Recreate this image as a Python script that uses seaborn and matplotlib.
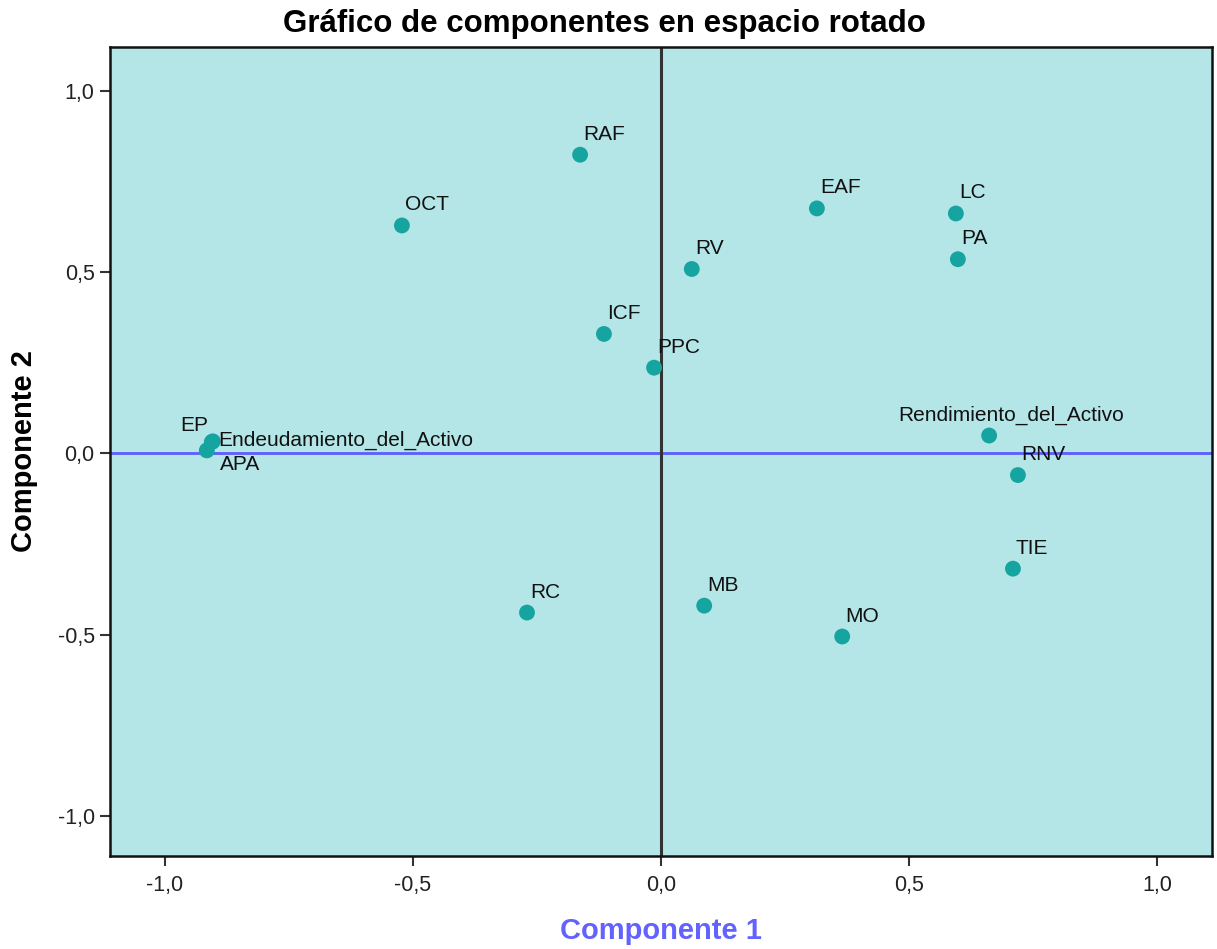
import pandas as pd
import matplotlib.pyplot as plt
import seaborn as sns

# Component loadings (rotated space)
variables = ["RAF", "OCT", "EAF", "LC", "PA", "RV", "ICF", "PPC",
             "EP", "Endeudamiento_del_Activo", "APA",
             "Rendimiento_del_Activo", "RNV", "TIE", "RC", "MB", "MO"]
comp1 = [-0.163, -0.522, 0.314, 0.594, 0.598, 0.062, -0.115, -0.014,
         -0.905, -0.903, -0.915,
         0.661, 0.719, 0.709, -0.270, 0.087, 0.365]
comp2 = [0.823, 0.628, 0.675, 0.661, 0.535, 0.508, 0.329, 0.236,
         0.031, 0.033, 0.008,
         0.049, -0.060, -0.318, -0.439, -0.420, -0.505]
ticks = [-1.0, -0.5, 0.0, 0.5, 1.0]

df = pd.DataFrame({"var": variables, "c1": comp1, "c2": comp2})

# label offsets in pixels (default up-right of the point)
label_offsets = {
    "EP": (-32, 11, "left"),
    "Endeudamiento_del_Activo": (5, -4, "left"),
    "APA": (13, -20, "left"),
    "Rendimiento_del_Activo": (-91, 15, "left"),
}

sns.set_style("white")
plt.rcParams["font.family"] = ["Liberation Sans", "DejaVu Sans"]

fig = plt.figure(figsize=(12.17, 9.49), dpi=100)
ax = fig.add_axes([0.0904, 0.098, 0.9055, 0.8525])
ax.set_facecolor("#b4e5e7")

ax.axhline(0, color="#5c5cff", lw=2, zorder=1)
ax.axvline(0, color="#333333", lw=2.2, zorder=1)

sns.scatterplot(data=df, x="c1", y="c2", color="#16a4a1", s=130,
                edgecolor="none", ax=ax, zorder=3)

for v, x, y in zip(variables, comp1, comp2):
    dx, dy, ha = label_offsets.get(v, (3, 15, "left"))
    ax.annotate(v, (x, y), xytext=(dx, dy), textcoords="offset pixels",
                ha=ha, va="baseline", fontsize=15, color="#111111", zorder=4)

ax.set_xlim(-1.11, 1.11)
ax.set_ylim(-1.11, 1.12)
ax.set_xticks(ticks)
ax.set_yticks(ticks)
tick_labels = [f"{t:.1f}".replace(".", ",") for t in ticks]
ax.set_xticklabels(tick_labels)
ax.set_yticklabels(tick_labels)
ax.tick_params(axis="both", direction="out", length=7, width=1.5,
               color="#333333", labelsize=15.5, labelcolor="#222222",
               bottom=True, left=True)
ax.tick_params(axis="x", pad=7)
ax.tick_params(axis="y", pad=4)

for s in ax.spines.values():
    s.set_color("#111111")
    s.set_linewidth(1.8)

fig.suptitle("Gráfico de componentes en espacio rotado", fontsize=22.5,
             fontweight="bold", color="black", x=0.497, y=0.991, va="top")
ax.set_xlabel("Componente 1", fontsize=21, fontweight="bold",
              color="#6262ff", labelpad=15)
ax.set_ylabel("Componente 2", fontsize=21, fontweight="bold",
              color="black", labelpad=14)

fig.savefig("out.png", dpi=100)
